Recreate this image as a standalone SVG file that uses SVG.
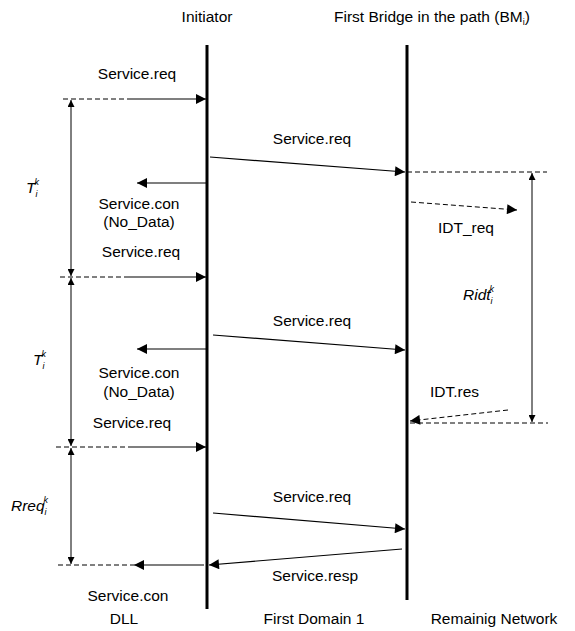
<svg xmlns="http://www.w3.org/2000/svg" width="575" height="631" viewBox="0 0 575 631">
<style>
text{font-family:"Liberation Sans",Arial,sans-serif;font-size:15.5px;fill:#000}
.c{text-anchor:middle}
.it{font-style:italic}
.sub{font-size:9px}
.life{stroke:#000;stroke-width:3;fill:none}
.msg{stroke:#000;stroke-width:1.2;fill:none}
.dash{stroke:#000;stroke-width:1;stroke-dasharray:5,3;fill:none}
.dim{stroke:#000;stroke-width:1;fill:none}
</style>
<defs>
<marker id="ah" viewBox="0 0 10 10" refX="10" refY="5" markerWidth="11" markerHeight="10" markerUnits="userSpaceOnUse" orient="auto"><path d="M0,0 L10,5 L0,10 Z" fill="#000"/></marker>
<marker id="dh" viewBox="0 0 10 10" refX="10" refY="5" markerWidth="7" markerHeight="7" markerUnits="userSpaceOnUse" orient="auto-start-reverse"><path d="M0,0 L10,5 L0,10 Z" fill="#000"/></marker>
</defs>
<g id="initiator">
<text class="c" x="207" y="22">Initiator</text>
<line class="life" x1="207" y1="45" x2="207" y2="609"/>
</g>
<g id="bridge">
<text x="334" y="22">First Bridge in the path (BM<tspan class="sub" dy="3">i</tspan><tspan dy="-3">)</tspan></text>
<line class="life" x1="407" y1="45" x2="407" y2="600"/>
</g>
<g id="labels">
<text class="c" x="137" y="79">Service.req</text>
<text class="c" x="312" y="144">Service.req</text>
<text class="c" x="139" y="209">Service.con</text>
<text class="c" x="139" y="227">(No_Data)</text>
<text class="c" x="141" y="257">Service.req</text>
<text x="438" y="233">IDT_req</text>
<text class="c" x="312" y="326">Service.req</text>
<text class="c" x="139" y="378">Service.con</text>
<text class="c" x="139" y="397">(No_Data)</text>
<text class="c" x="132" y="428">Service.req</text>
<text x="430" y="397">IDT.res</text>
<text class="c" x="312" y="502">Service.req</text>
<text class="c" x="315" y="581">Service.resp</text>
<text class="c" x="128" y="601">Service.con</text>
<text class="c" x="124" y="624">DLL</text>
<text class="c" x="314" y="624">First Domain 1</text>
<text class="c" x="494" y="624">Remainig Network</text>
<text class="it" x="26" y="193">T<tspan class="sub" dy="4">i</tspan><tspan class="sub" dx="-3" dy="-12">k</tspan></text>
<text class="it" x="33" y="365">T<tspan class="sub" dy="4">i</tspan><tspan class="sub" dx="-3" dy="-12">k</tspan></text>
<text class="it" x="463" y="300">Ridt<tspan class="sub" dy="4">i</tspan><tspan class="sub" dx="-3" dy="-12">k</tspan></text>
<text class="it" x="11" y="511">Rreq<tspan class="sub" dy="4">i</tspan><tspan class="sub" dx="-3" dy="-12">k</tspan></text>
</g>
<g id="connectors">
<line class="dash" x1="63" y1="99" x2="128" y2="99"/>
<line class="msg" x1="128" y1="99" x2="206" y2="99" marker-end="url(#ah)"/>
<line class="dim" x1="71" y1="100" x2="71" y2="276" marker-start="url(#dh)" marker-end="url(#dh)"/>
<line class="msg" x1="210" y1="157" x2="405" y2="172" marker-end="url(#ah)"/>
<line class="msg" x1="206" y1="183" x2="137" y2="183" marker-end="url(#ah)"/>
<line class="dash" x1="60" y1="277" x2="128" y2="277"/>
<line class="msg" x1="128" y1="277" x2="206" y2="277" marker-end="url(#ah)"/>
<line class="dash" x1="407" y1="172" x2="547" y2="172"/>
<line class="dash" x1="411" y1="202" x2="517" y2="210" marker-end="url(#ah)"/>
<line class="dim" x1="532" y1="173" x2="532" y2="422" marker-start="url(#dh)" marker-end="url(#dh)"/>
<line class="dim" x1="71" y1="278" x2="71" y2="446" marker-start="url(#dh)" marker-end="url(#dh)"/>
<line class="msg" x1="213" y1="335" x2="405" y2="350" marker-end="url(#ah)"/>
<line class="msg" x1="206" y1="349" x2="137" y2="349" marker-end="url(#ah)"/>
<line class="dash" x1="508" y1="410" x2="410" y2="421" marker-end="url(#ah)"/>
<line class="dash" x1="410" y1="423" x2="548" y2="423"/>
<line class="dash" x1="56" y1="447" x2="128" y2="447"/>
<line class="msg" x1="128" y1="447" x2="206" y2="447" marker-end="url(#ah)"/>
<line class="dim" x1="71" y1="448" x2="71" y2="564" marker-start="url(#dh)" marker-end="url(#dh)"/>
<line class="msg" x1="213" y1="513" x2="405" y2="529" marker-end="url(#ah)"/>
<line class="msg" x1="402" y1="549" x2="209" y2="565" marker-end="url(#ah)"/>
<line class="dash" x1="58" y1="565" x2="134" y2="565"/>
<line class="msg" x1="204" y1="565" x2="134" y2="565" marker-end="url(#ah)"/>
</g>
</svg>
